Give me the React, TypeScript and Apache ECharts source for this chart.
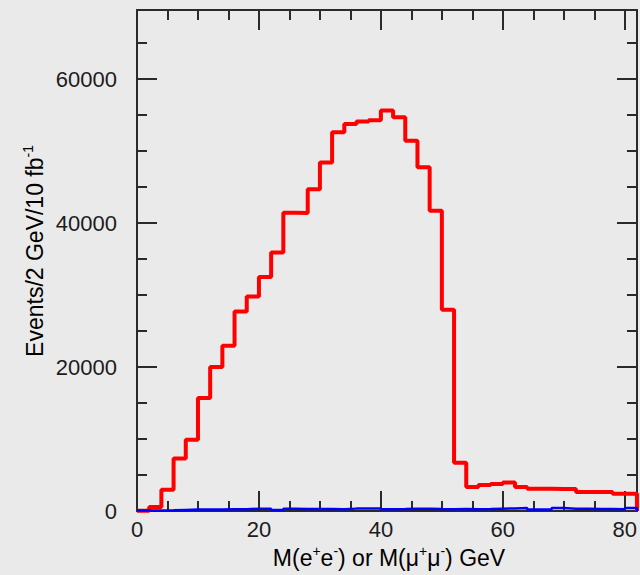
import React, { useEffect, useRef } from "react";
import * as echarts from "echarts";

// Dilepton invariant mass spectrum, 2 GeV bins from 0 to 82 GeV
const BIN_WIDTH = 2;
const X_MAX = 82;
const Y_MAX = 69600;

// Events per bin (red histogram)
const signalEvents = [
  50, 550, 2950, 7300, 9900, 15700, 20000, 22950, 27700, 29800,
  32500, 35900, 41450, 41400, 44700, 48400, 52600, 53750, 54100, 54300,
  55650, 54700, 51450, 47750, 41700, 27950, 6700, 3350, 3600, 3750,
  3950, 3350, 3100, 3100, 3050, 3050, 2650, 2650, 2650, 2400,
  2400,
];

// Events per bin (blue histogram)
const backgroundEvents = [
  60, 80, 100, 150, 200, 200, 200, 250, 250, 320,
  320, 150, 300, 280, 280, 280, 250, 330, 360, 360,
  250, 280, 320, 320, 280, 250, 280, 250, 280, 320,
  360, 400, 200, 200, 400, 320, 320, 280, 280, 250,
  400,
];

const xMajorTicks = [0, 20, 40, 60, 80];
const xMinorTicks = [5, 10, 15, 25, 30, 35, 45, 50, 55, 65, 70, 75];
const yMajorTicks = [0, 20000, 40000, 60000];
const yMinorTicks = [5000, 10000, 15000, 25000, 30000, 35000, 45000, 50000, 55000, 65000];

const FONT = "'Liberation Sans', Arial, Helvetica, sans-serif";
const INK = "#1c1c1c";
const FRAME = "#2a2a2a";

// Turn per-bin contents into the outline points of a step histogram
function histogramOutline(values: number[]): number[][] {
  const pts = values.map((v, i) => [i * BIN_WIDTH, v]);
  const end = values.length * BIN_WIDTH;
  pts.push([end, values[values.length - 1]]);
  pts.push([end, 0]);
  return pts;
}

const plainNumber = (v: number) => String(Math.round(v));

function xAxisDef(position: "top" | "bottom", major: boolean, withLine: boolean, withLabels: boolean) {
  return {
    type: "value",
    position,
    min: 0,
    max: X_MAX,
    splitLine: { show: false },
    axisLine: { show: withLine, onZero: false, lineStyle: { color: FRAME, width: 2 } },
    axisTick: {
      show: true,
      inside: true,
      length: major ? 20 : 10,
      customValues: major ? xMajorTicks : xMinorTicks,
      lineStyle: { color: FRAME, width: 2 },
    },
    axisLabel: {
      show: withLabels,
      customValues: xMajorTicks,
      formatter: plainNumber,
      margin: 7,
      fontSize: 22,
      fontFamily: FONT,
      color: INK,
    },
  };
}

function yAxisDef(position: "left" | "right", major: boolean, withLine: boolean, withLabels: boolean) {
  return {
    type: "value",
    position,
    min: 0,
    max: Y_MAX,
    splitLine: { show: false },
    axisLine: { show: withLine, onZero: false, lineStyle: { color: FRAME, width: 2 } },
    axisTick: {
      show: true,
      inside: true,
      length: major ? 20 : 10,
      customValues: major ? yMajorTicks : yMinorTicks,
      lineStyle: { color: FRAME, width: 2 },
    },
    axisLabel: {
      show: withLabels,
      customValues: yMajorTicks,
      formatter: plainNumber,
      margin: 20,
      fontSize: 22,
      fontFamily: FONT,
      color: INK,
    },
  };
}

export default function App() {
  const ref = useRef<HTMLDivElement>(null);

  useEffect(() => {
    document.body.style.margin = "0";
    if (!ref.current) return;
    const chart = echarts.init(ref.current, undefined, { renderer: "svg" });

    const titleRich = {
      n: { fontSize: 23, fontFamily: FONT, color: INK, lineHeight: 28 },
      s: { fontSize: 14, fontFamily: FONT, color: INK, lineHeight: 14, verticalAlign: "top" },
    };

    chart.setOption({
      animation: false,
      backgroundColor: "#eaeaea",
      grid: { left: 137, top: 10, width: 502, height: 501, containLabel: false },
      xAxis: [
        xAxisDef("bottom", true, true, true),
        xAxisDef("bottom", false, false, false),
        xAxisDef("top", true, true, false),
        xAxisDef("top", false, false, false),
      ],
      yAxis: [
        yAxisDef("left", true, true, true),
        yAxisDef("left", false, false, false),
        yAxisDef("right", true, true, false),
        yAxisDef("right", false, false, false),
      ],
      series: [
        {
          type: "line",
          name: "signal",
          xAxisIndex: 0,
          yAxisIndex: 0,
          step: "end",
          symbol: "none",
          clip: false,
          lineStyle: { color: "#ff0000", width: 4 },
          data: histogramOutline(signalEvents),
          z: 3,
        },
        {
          type: "line",
          name: "background",
          xAxisIndex: 0,
          yAxisIndex: 0,
          step: "end",
          symbol: "none",
          clip: false,
          lineStyle: { color: "#0000ff", width: 2.5 },
          data: histogramOutline(backgroundEvents),
          z: 4,
        },
      ],
      graphic: [
        {
          type: "text",
          x: 389,
          y: 558,
          style: {
            text: "{n|M(e}{s|+}{n|e}{s|-}{n|) or M(μ}{s|+}{n|μ}{s|-}{n|) GeV}",
            rich: titleRich,
            align: "center",
            verticalAlign: "middle",
          },
        },
        {
          type: "text",
          x: 35,
          y: 251,
          rotation: Math.PI / 2,
          style: {
            text: "{n|Events/2 GeV/10 fb}{s|-1}",
            rich: titleRich,
            align: "center",
            verticalAlign: "middle",
          },
        },
      ],
    });

    return () => chart.dispose();
  }, []);

  return <div ref={ref} style={{ width: 640, height: 575 }} />;
}
